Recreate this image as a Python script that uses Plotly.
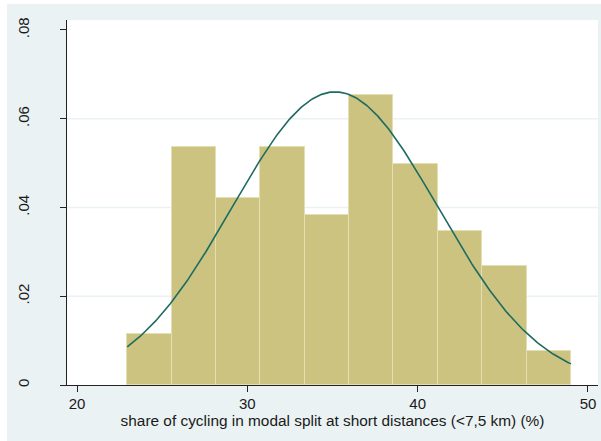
import numpy as np
import plotly.graph_objects as go

# Histogram bins (share of cycling, %) and density heights
bin_edges = [22.95, 25.56, 28.16, 30.77, 33.37, 35.98, 38.58, 41.19, 43.79, 46.40, 49.00]
densities = [0.0115, 0.0537, 0.0422, 0.0537, 0.0384, 0.0653, 0.0499, 0.0346, 0.0269, 0.0077]

# Fitted normal overlay
norm_mean = 35.15
norm_sd = 6.04

x_ticks = [20, 30, 40, 50]
y_ticks = [0, 0.02, 0.04, 0.06, 0.08]
y_ticktext = ["0", ".02", ".04", ".06", ".08"]
grid_vals = [0.02, 0.04, 0.06]

x_title = "share of cycling in modal split at short distances (<7,5 km) (%)"

BG = "#EAF2F3"
BAR_FILL = "#CBC37F"
BAR_LINE = "#E4DFB2"
CURVE = "#1E6B62"
FONT = "Liberation Sans, Arial, sans-serif"

edges = np.array(bin_edges)
centers = (edges[:-1] + edges[1:]) / 2
widths = edges[1:] - edges[:-1]

xs = np.linspace(bin_edges[0], bin_edges[-1], 300)
ys = np.exp(-0.5 * ((xs - norm_mean) / norm_sd) ** 2) / (norm_sd * np.sqrt(2 * np.pi))

fig = go.Figure()
fig.add_trace(go.Bar(
    x=centers, y=densities, width=widths,
    marker=dict(color=BAR_FILL, line=dict(color=BAR_LINE, width=1)),
    hoverinfo="skip",
))
fig.add_trace(go.Scatter(
    x=xs, y=ys, mode="lines",
    line=dict(color=CURVE, width=1.6),
    hoverinfo="skip",
))

L, R, T, B = 67, 3, 20, 56
W, H = 601, 441
pw, ph = W - L - R, H - T - B

shapes = []
for g in grid_vals:
    shapes.append(dict(type="line", xref="paper", yref="y", x0=0, x1=1, y0=g, y1=g,
                       line=dict(color=BG, width=1.5), layer="below"))
# thin white border strips at the left and top edges of the canvas
shapes.append(dict(type="rect", xref="paper", yref="paper",
                   x0=-L / pw, x1=(7 - L) / pw, y0=-B / ph, y1=(H - T) / ph + 0.01,
                   fillcolor="white", line=dict(width=0), layer="below"))
shapes.append(dict(type="rect", xref="paper", yref="paper",
                   x0=-L / pw, x1=1 + R / pw, y0=(ph + T - 4) / ph, y1=(ph + T) / ph + 0.01,
                   fillcolor="white", line=dict(width=0), layer="below"))

fig.update_layout(
    width=W, height=H,
    margin=dict(l=L, r=R, t=T, b=B, pad=0),
    paper_bgcolor=BG,
    plot_bgcolor="white",
    showlegend=False,
    bargap=0,
    font=dict(family=FONT, size=15, color="#1a1a1a"),
    shapes=shapes,
    xaxis=dict(
        range=[19.413, 50.588],
        tickmode="array", tickvals=x_ticks,
        ticks="outside", ticklen=6, tickwidth=1, tickcolor="#222222",
        ticklabelstandoff=-1,
        showline=True, linecolor="#222222", linewidth=1,
        showgrid=False, zeroline=False,
        title=dict(text=x_title, font=dict(size=15.4), standoff=2),
    ),
    yaxis=dict(
        range=[0, 0.08225],
        tickmode="array", tickvals=y_ticks, ticktext=y_ticktext,
        tickangle=-90,
        ticks="outside", ticklen=6, tickwidth=1, tickcolor="#222222",
        ticklabelstandoff=25,
        showline=True, linecolor="#222222", linewidth=1,
        showgrid=False, zeroline=False,
    ),
)

fig.write_html("out.html")
